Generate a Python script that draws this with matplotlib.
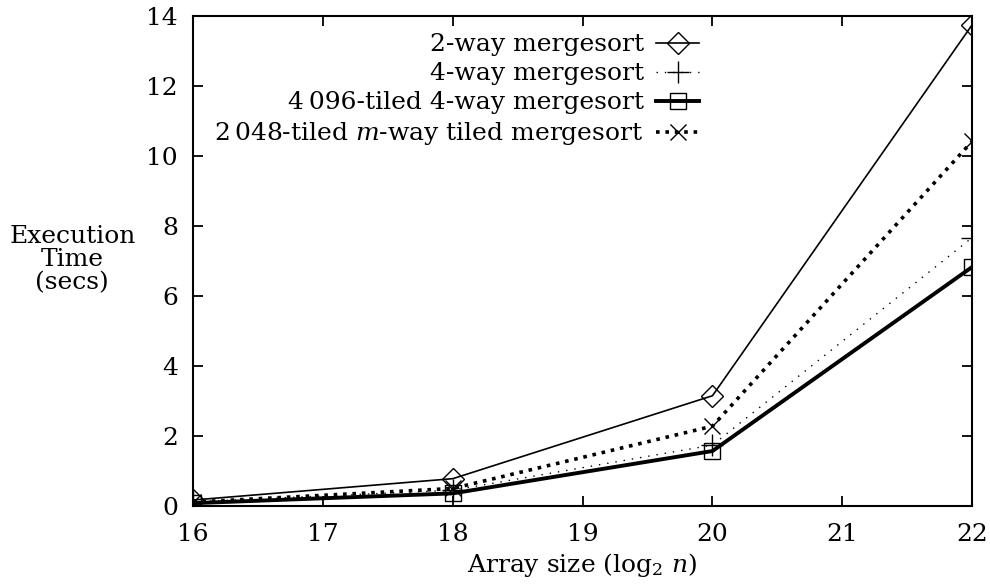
import matplotlib
matplotlib.use("Agg")
import matplotlib.pyplot as plt

plt.rcParams['font.family'] = ['DejaVu Serif']
plt.rcParams['mathtext.fontset'] = 'dejavuserif'

# array size (log2 n)
sizes = [16, 18, 20, 22]

# execution time in seconds
two_way = [0.17, 0.78, 3.15, 13.75]
four_way = [0.12, 0.45, 1.74, 7.67]
tiled_4way = [0.08, 0.36, 1.57, 6.83]
tiled_mway = [0.11, 0.50, 2.28, 10.42]

labels = ["2-way mergesort",
          "4-way mergesort",
          "4\u2009096-tiled 4-way mergesort",
          "2\u2009048-tiled $m$-way tiled mergesort"]

fig = plt.figure(figsize=(9.9, 5.84), dpi=100)
ax = fig.add_axes([0.195, 0.1336, 0.787, 0.839])

ax.plot(sizes, two_way, color='black', lw=1.2, marker='D', ms=11,
        mfc='none', mec='black', mew=1.0, label=labels[0])
ax.plot(sizes, four_way, color='black', lw=1.0, ls=(0, (1, 5)), marker='+',
        ms=16, mew=1.0, label=labels[1])
ax.plot(sizes, tiled_4way, color='black', lw=2.8, marker='s', ms=11,
        mfc='none', mec='black', mew=1.0, label=labels[2])
ax.plot(sizes, tiled_mway, color='black', lw=2.6, ls=(0, (1, 1.6)), marker='x',
        ms=12, mew=1.0, label=labels[3])

ax.set_xlim(16, 22)
ax.set_ylim(0, 14)
ax.set_xticks(range(16, 23))
ax.set_yticks(range(0, 15, 2))
ax.tick_params(direction='in', length=7, width=1.3, top=True, right=True,
               labelsize=18)
ax.tick_params(axis='x', pad=12)
ax.tick_params(axis='y', pad=11)
for sp in ax.spines.values():
    sp.set_linewidth(1.5)

ax.set_xlabel("Array size (log$_2$ $n$)", fontsize=18, labelpad=4)
fig.text(0.073, 0.555, "Execution\nTime\n(secs)", fontsize=18, ha='center',
         va='center', linespacing=1.0)

leg = ax.legend(loc='upper right', bbox_to_anchor=(0.662, 0.985),
                markerfirst=False, frameon=False, fontsize=18,
                handlelength=1.7, labelspacing=0.24, handletextpad=0.5,
                borderaxespad=0)

fig.savefig("out.png", dpi=100)
